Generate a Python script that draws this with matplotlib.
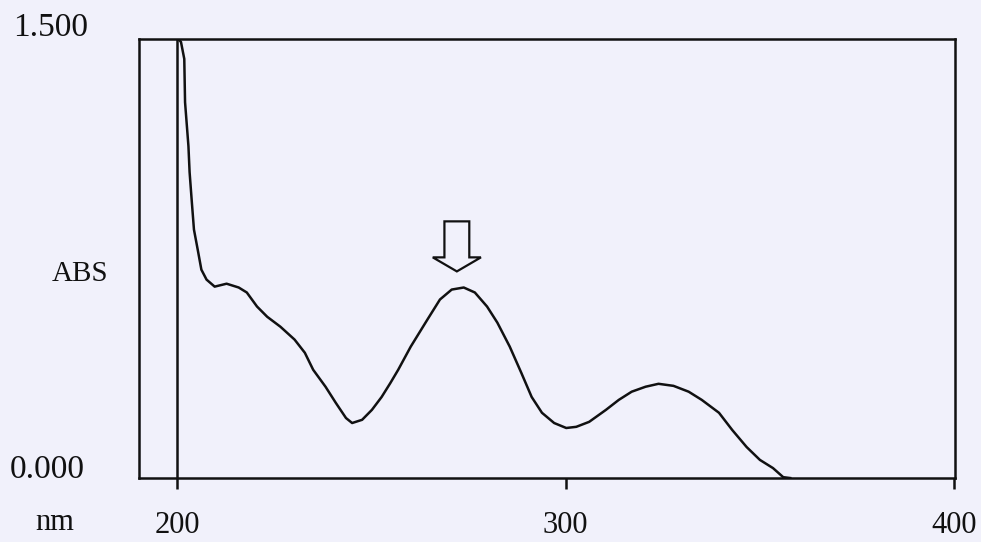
import matplotlib
matplotlib.use('Agg')
import matplotlib.pyplot as plt
from matplotlib.patches import FancyArrow

# ---- data ----
wavelength_nm = [200.3, 201.0, 201.85, 202.05, 202.92, 203.22, 203.80, 204.34, 205.30, 206.25,
                 207.58, 209.67, 212.74, 215.86, 217.94, 220.57, 223.19, 226.59, 230.24, 232.88,
                 235.02, 238.20, 240.84, 243.47, 245.05, 247.62, 250.14, 252.64, 254.90, 256.91,
                 260.13, 264.40, 267.65, 270.68, 273.77, 276.63, 279.77, 282.42, 285.61, 288.57,
                 291.25, 293.90, 297.04, 300.15, 302.73, 306.05, 310.37, 313.67, 316.99, 320.57,
                 323.89, 327.75, 331.66, 335.03, 339.46, 342.88, 346.57, 349.99, 353.36, 355.99,
                 357.8]
absorbance = [1.500, 1.490, 1.432, 1.284, 1.134, 1.045, 0.942, 0.849, 0.781, 0.712,
              0.678, 0.654, 0.664, 0.651, 0.634, 0.586, 0.551, 0.517, 0.473, 0.428,
              0.370, 0.312, 0.257, 0.205, 0.188, 0.199, 0.233, 0.277, 0.325, 0.370,
              0.449, 0.541, 0.610, 0.644, 0.651, 0.634, 0.586, 0.531, 0.449, 0.360,
              0.277, 0.223, 0.188, 0.171, 0.175, 0.192, 0.233, 0.267, 0.295, 0.312,
              0.322, 0.315, 0.295, 0.267, 0.223, 0.164, 0.106, 0.062, 0.034, 0.003,
              0.000]
x_ticks = [200, 300, 400]
x_tick_labels = ['200', '300', '400']
y_min_label = '0.000'
y_max_label = '1.500'
y_title = 'ABS'
x_unit = 'nm'
marked_peak_nm = 272

FONT = 'Liberation Serif'
BG = '#f1f1fb'
INK = '#111111'

fig = plt.figure(figsize=(9.81, 5.42), dpi=100, facecolor=BG)
ax = fig.add_axes([0.1417, 0.118, 0.8318, 0.810])
ax.set_facecolor(BG)

ax.plot(wavelength_nm, absorbance, color=INK, lw=1.8, solid_joinstyle='round')
ax.axvline(x_ticks[0], color=INK, lw=1.8)

ax.set_xlim(190.2, 400.2)
ax.set_ylim(0, 1.5)

for s in ax.spines.values():
    s.set_linewidth(1.8)
    s.set_color(INK)

ax.set_xticks(x_ticks)
ax.set_xticklabels(x_tick_labels, fontfamily=FONT, fontsize=22)
ax.tick_params(axis='x', direction='out', length=8, width=1.8, pad=16, colors=INK)
for lbl in ax.get_xticklabels():
    lbl.set_color(INK)
ax.set_yticks([])

# y-range labels, unit and axis title
ax.annotate(y_max_label, xy=(-0.154, 1.5), xycoords=('axes fraction', 'data'),
            xytext=(0, 8), textcoords='offset points', ha='left', va='center',
            fontfamily=FONT, fontsize=24, color=INK)
ax.annotate(y_min_label, xy=(-0.158, 0.0), xycoords=('axes fraction', 'data'),
            xytext=(0, 6), textcoords='offset points', ha='left', va='center',
            fontfamily=FONT, fontsize=24, color=INK)
ax.annotate(x_unit, xy=(-0.127, 0.0), xycoords=('axes fraction', 'data'),
            xytext=(0, -32), textcoords='offset points', ha='left', va='center',
            fontfamily=FONT, fontsize=22, color=INK)
ax.text(-0.107, 0.465, y_title, transform=ax.transAxes, ha='left', va='center',
        fontfamily=FONT, fontsize=21, color=INK)

# hollow arrow marking the main band
peak_abs = max(a for w, a in zip(wavelength_nm, absorbance) if 260 < w < 290)
tip = peak_abs + 0.055
length = 0.171
arrow = FancyArrow(marked_peak_nm, tip + length, 0, -length, width=6.4,
                   head_width=12.4, head_length=0.048, length_includes_head=True,
                   fill=False, ec=INK, lw=1.6)
ax.add_patch(arrow)

fig.savefig('out.png', dpi=100, facecolor=BG)
